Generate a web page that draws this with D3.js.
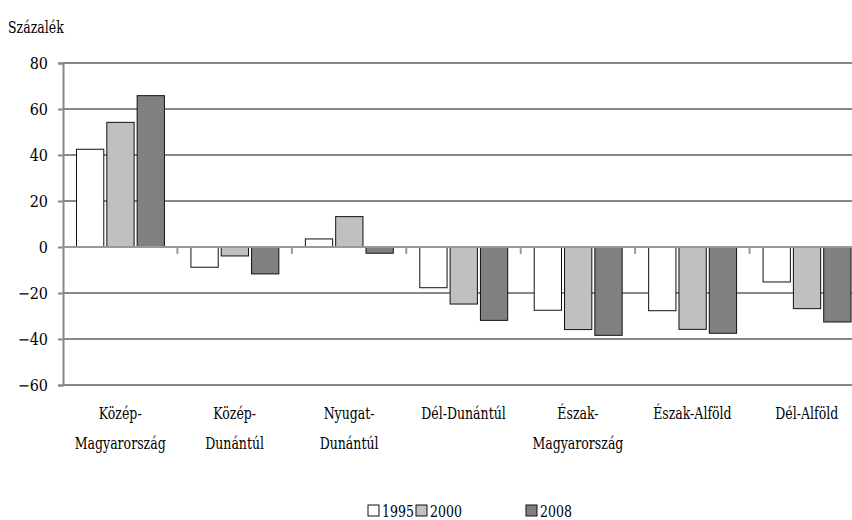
<!DOCTYPE html>
<html>
<head>
<meta charset="utf-8">
<script src="https://cdn.jsdelivr.net/npm/d3@7"></script>
<style>
  body { margin: 0; background: #fff; }
  svg text { font-stretch: condensed; }
</style>
</head>
<body>
<div id="chart"></div>
<script>
const regions = [
  ["Közép-", "Magyarország"],
  ["Közép-", "Dunántúl"],
  ["Nyugat-", "Dunántúl"],
  ["Dél-Dunántúl"],
  ["Észak-", "Magyarország"],
  ["Észak-Alföld"],
  ["Dél-Alföld"]
];
const years = ["1995", "2000", "2008"];
const v1995 = [42.5, -8.8, 3.5, -17.7, -27.5, -27.7, -15.2];
const v2000 = [54.2, -3.9, 13.2, -24.8, -35.9, -35.8, -26.8];
const v2008 = [65.8, -11.7, -2.7, -31.9, -38.4, -37.5, -32.6];
const yTicks = [80, 60, 40, 20, 0, -20, -40, -60];
const fills = ["#ffffff", "#c0c0c0", "#808080"];

const width = 852, height = 520;
const margin = {left: 63, right: 864, top: 63, bottom: 385};
const font = "'DejaVu Serif Condensed', 'DejaVu Serif', serif";
const fs = 16;
const squeeze = 0.82;

const svg = d3.select("#chart")
  .append("svg")
  .attr("width", width)
  .attr("height", height)
  .attr("font-family", font);

const series = [v1995, v2000, v2008];
const data = regions.map((r, i) => ({ i: i, vals: series.map(s => s[i]) }));

const x0 = d3.scaleBand()
  .domain(d3.range(regions.length))
  .range([margin.left, margin.right])
  .padding(0);

const x1 = d3.scaleBand()
  .domain(years)
  .range([13.5, x0.bandwidth() - 13])
  .paddingInner(0.1);

const y = d3.scaleLinear()
  .domain([-60, 80])
  .range([margin.bottom, margin.top]);

// gridlines
svg.append("g")
  .selectAll("line")
  .data(yTicks.filter(d => d !== 0))
  .enter()
  .append("line")
  .attr("x1", margin.left)
  .attr("x2", width)
  .attr("y1", d => y(d))
  .attr("y2", d => y(d))
  .attr("stroke", "#111")
  .attr("stroke-width", 1);

// y axis
const yAxis = d3.axisLeft(y).tickValues(yTicks).tickSize(5).tickPadding(10);
const gy = svg.append("g")
  .attr("transform", `translate(${margin.left},0)`)
  .call(yAxis)
  .attr("font-family", font)
  .attr("font-size", fs);
gy.select(".domain").attr("stroke", "#888").attr("stroke-width", 2);
gy.selectAll(".tick line").attr("stroke", "#888").attr("stroke-width", 2);
gy.selectAll(".tick text")
  .attr("fill", "#000")
  .attr("x", -15);

// bars
const groups = svg.append("g")
  .selectAll("g")
  .data(data)
  .enter()
  .append("g")
  .attr("transform", d => `translate(${x0(d.i)},0)`);

groups.selectAll("rect")
  .data(d => d.vals.map((v, k) => ({ year: years[k], v: v, k: k })))
  .enter()
  .append("rect")
  .attr("x", d => x1(d.year))
  .attr("width", x1.bandwidth())
  .attr("y", d => y(Math.max(0, d.v)))
  .attr("height", d => Math.abs(y(d.v) - y(0)))
  .attr("fill", d => fills[d.k])
  .attr("stroke", "#111")
  .attr("stroke-width", 1);

// zero axis with category ticks
const gx = svg.append("g")
  .attr("transform", `translate(0,${y(0)})`);
gx.append("line")
  .attr("x1", margin.left)
  .attr("x2", width)
  .attr("stroke", "#999")
  .attr("stroke-width", 2);
gx.selectAll(".ct")
  .data(d3.range(1, regions.length))
  .enter()
  .append("line")
  .attr("x1", d => x0(d))
  .attr("x2", d => x0(d))
  .attr("y1", 0)
  .attr("y2", 7)
  .attr("stroke", "#999")
  .attr("stroke-width", 2);

// category labels (squeezed horizontally like the original)
const lab = svg.append("g")
  .selectAll("g")
  .data(regions)
  .enter()
  .append("g")
  .attr("transform", (d, i) => `translate(${x0(i) + x0.bandwidth() / 2},419) scale(${squeeze},1)`)
  .append("text")
  .attr("text-anchor", "middle")
  .attr("font-size", fs + 1);
lab.selectAll("tspan")
  .data(d => d)
  .enter()
  .append("tspan")
  .attr("x", 0)
  .attr("dy", (d, i) => i === 0 ? 0 : 30)
  .text(d => d);

// unit label
svg.append("text")
  .attr("transform", `translate(8,33) scale(${squeeze},1)`)
  .attr("font-size", fs + 1)
  .text("Százalék");

// legend
const legX = [368, 416, 526];
const leg = svg.append("g")
  .selectAll("g")
  .data(years)
  .enter()
  .append("g")
  .attr("transform", (d, i) => `translate(${legX[i]},505)`);
leg.append("rect")
  .attr("width", 11)
  .attr("height", 11)
  .attr("fill", (d, i) => fills[i])
  .attr("stroke", "#111")
  .attr("stroke-width", 1);
leg.append("text")
  .attr("transform", `translate(14,12) scale(${squeeze},1)`)
  .attr("font-size", fs + 1)
  .text(d => d);
</script>
</body>
</html>
